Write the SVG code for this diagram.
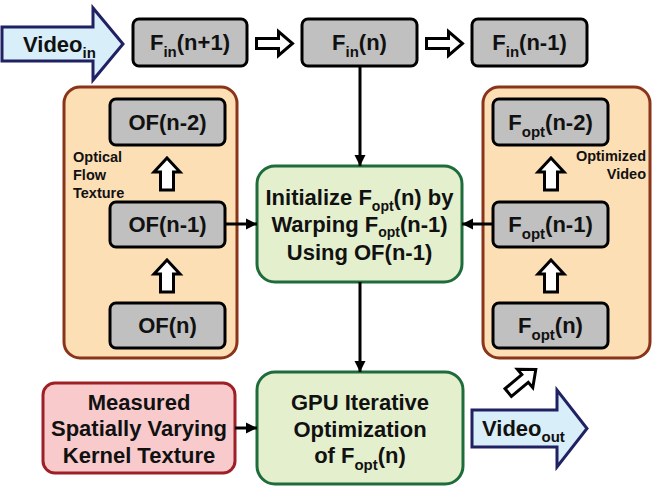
<svg xmlns="http://www.w3.org/2000/svg" width="652" height="486" viewBox="0 0 652 486">
  <defs>
    <marker id="head" viewBox="0 0 10 10" refX="10" refY="5" markerWidth="11" markerHeight="12" markerUnits="userSpaceOnUse" orient="auto">
      <path d="M0,0 L10,5 L0,10 Z" fill="#000"/>
    </marker>
    <path id="hollowUp" d="M0,-16 L13,-2 L6.5,-2 L6.5,16 L-6.5,16 L-6.5,-2 L-13,-2 Z"/>
    <path id="hollowRight" d="M-18,-5 L4,-5 L4,-12 L18,0 L4,12 L4,5 L-18,5 Z"/>
  </defs>
  <style>
    text { font-family: "Liberation Sans", Arial, sans-serif; font-weight: bold; fill: #111; }
    .t { font-size: 22px; text-anchor: middle; }
    .sub { font-size: 15px; }
    .sub2 { font-size: 14px; }
    .note { font-size: 14.5px; }
    .frame { fill: #c0c0c0; stroke: #000; stroke-width: 3; }
    .group { fill: #fddfb6; stroke: #8a3419; stroke-width: 3; }
    .proc { fill: #e4efcd; stroke: #1e6b3b; stroke-width: 3; }
    .kernel { fill: #f8cacc; stroke: #9e2026; stroke-width: 3; }
    .video { fill: #d8eef9; stroke: #1f2163; stroke-width: 3; stroke-linejoin: miter; }
    .hollow { fill: #fff; stroke: #000; stroke-width: 3; stroke-linejoin: miter; }
    .conn { stroke: #000; stroke-width: 3; fill: none; }
  </style>

  <!-- containers -->
  <g id="optical-flow-texture">
    <rect class="group" x="64" y="87" width="173" height="271" rx="16"/>
    <text class="note" x="73" y="162">Optical</text>
    <text class="note" x="73" y="180">Flow</text>
    <text class="note" x="73" y="198">Texture</text>
  </g>
  <g id="optimized-video">
    <rect class="group" x="483" y="87" width="167" height="271" rx="16"/>
    <text class="note" x="646" y="161" text-anchor="end">Optimized</text>
    <text class="note" x="646" y="179" text-anchor="end">Video</text>
  </g>

  <!-- input video arrow -->
  <g id="video-in">
    <path class="video" d="M2,27 L93,27 L93,8 L123,44 L93,80 L93,61 L2,61 Z"/>
    <text x="23" y="52" font-size="22px">Video<tspan class="sub" dy="6">in</tspan></text>
  </g>

  <!-- input frames -->
  <g id="fin-n-plus-1">
    <rect class="frame" x="133" y="19" width="114" height="47" rx="6"/>
    <text class="t" x="190" y="50">F<tspan class="sub" dy="7">in</tspan><tspan dy="-7">(n+1)</tspan></text>
  </g>
  <g id="fin-n">
    <rect class="frame" x="302" y="19" width="115" height="47" rx="6"/>
    <text class="t" x="359.5" y="50">F<tspan class="sub" dy="7">in</tspan><tspan dy="-7">(n)</tspan></text>
  </g>
  <g id="fin-n-minus-1">
    <rect class="frame" x="472" y="19" width="115" height="47" rx="6"/>
    <text class="t" x="529.5" y="50">F<tspan class="sub" dy="7">in</tspan><tspan dy="-7">(n-1)</tspan></text>
  </g>

  <!-- optical flow frames -->
  <g id="of-n-minus-2">
    <rect class="frame" x="110" y="99" width="115" height="46" rx="6"/>
    <text class="t" x="167.5" y="130">OF(n-2)</text>
  </g>
  <g id="of-n-minus-1">
    <rect class="frame" x="110" y="202" width="115" height="45" rx="6"/>
    <text class="t" x="167.5" y="232">OF(n-1)</text>
  </g>
  <g id="of-n">
    <rect class="frame" x="110" y="303" width="115" height="45" rx="6"/>
    <text class="t" x="167.5" y="333">OF(n)</text>
  </g>

  <!-- optimized frames -->
  <g id="fopt-n-minus-2">
    <rect class="frame" x="493" y="99" width="115" height="46" rx="6"/>
    <text class="t" x="550.5" y="130">F<tspan class="sub" dy="7">opt</tspan><tspan dy="-7">(n-2)</tspan></text>
  </g>
  <g id="fopt-n-minus-1">
    <rect class="frame" x="493" y="202" width="115" height="45" rx="6"/>
    <text class="t" x="550.5" y="232">F<tspan class="sub" dy="7">opt</tspan><tspan dy="-7">(n-1)</tspan></text>
  </g>
  <g id="fopt-n">
    <rect class="frame" x="493" y="303" width="115" height="45" rx="6"/>
    <text class="t" x="550.5" y="333">F<tspan class="sub" dy="7">opt</tspan><tspan dy="-7">(n)</tspan></text>
  </g>

  <!-- processing steps -->
  <g id="initialize">
    <rect class="proc" x="257" y="166" width="205" height="116" rx="18"/>
    <text class="t" x="359.5" y="205">Initialize F<tspan class="sub2" dy="6">opt</tspan><tspan dy="-6">(n) by</tspan></text>
    <text class="t" x="359.5" y="232">Warping F<tspan class="sub2" dy="5">opt</tspan><tspan dy="-5">(n-1)</tspan></text>
    <text class="t" x="359.5" y="260">Using OF(n-1)</text>
  </g>
  <g id="gpu-optimization">
    <rect class="proc" x="257" y="372" width="206" height="112" rx="18"/>
    <text class="t" x="360" y="410">GPU Iterative</text>
    <text class="t" x="360" y="437">Optimization</text>
    <text class="t" x="360" y="463">of F<tspan class="sub" dy="7">opt</tspan><tspan dy="-7">(n)</tspan></text>
  </g>
  <g id="kernel-texture">
    <rect class="kernel" x="43" y="383" width="192" height="90" rx="12"/>
    <text class="t" x="139" y="410">Measured</text>
    <text class="t" x="139" y="436">Spatially Varying</text>
    <text class="t" x="139" y="463">Kernel Texture</text>
  </g>

  <!-- output video arrow -->
  <g id="video-out">
    <path class="video" d="M472,410 L557,410 L557,390 L587,428.5 L557,467 L557,447 L472,447 Z"/>
    <text x="482" y="436" font-size="22px">Video<tspan class="sub" dy="6">out</tspan></text>
  </g>

  <!-- connectors -->
  <g id="connectors">
    <line class="conn" x1="360" y1="66" x2="360" y2="166" marker-end="url(#head)"/>
    <line class="conn" x1="360" y1="282" x2="360" y2="372" marker-end="url(#head)"/>
    <line class="conn" x1="225" y1="224" x2="257" y2="224" marker-end="url(#head)"/>
    <line class="conn" x1="493" y1="224" x2="462" y2="224" marker-end="url(#head)"/>
    <line class="conn" x1="235" y1="428" x2="257" y2="428" marker-end="url(#head)"/>
    <use href="#hollowRight" class="hollow" x="274.5" y="43.5"/>
    <use href="#hollowRight" class="hollow" x="444.5" y="43.5"/>
    <use href="#hollowUp" class="hollow" x="167" y="174"/>
    <use href="#hollowUp" class="hollow" x="167" y="276"/>
    <use href="#hollowUp" class="hollow" x="551" y="174"/>
    <use href="#hollowUp" class="hollow" x="551" y="276"/>
    <use href="#hollowRight" class="hollow" transform="translate(522,381) rotate(-40)"/>
  </g>
</svg>
